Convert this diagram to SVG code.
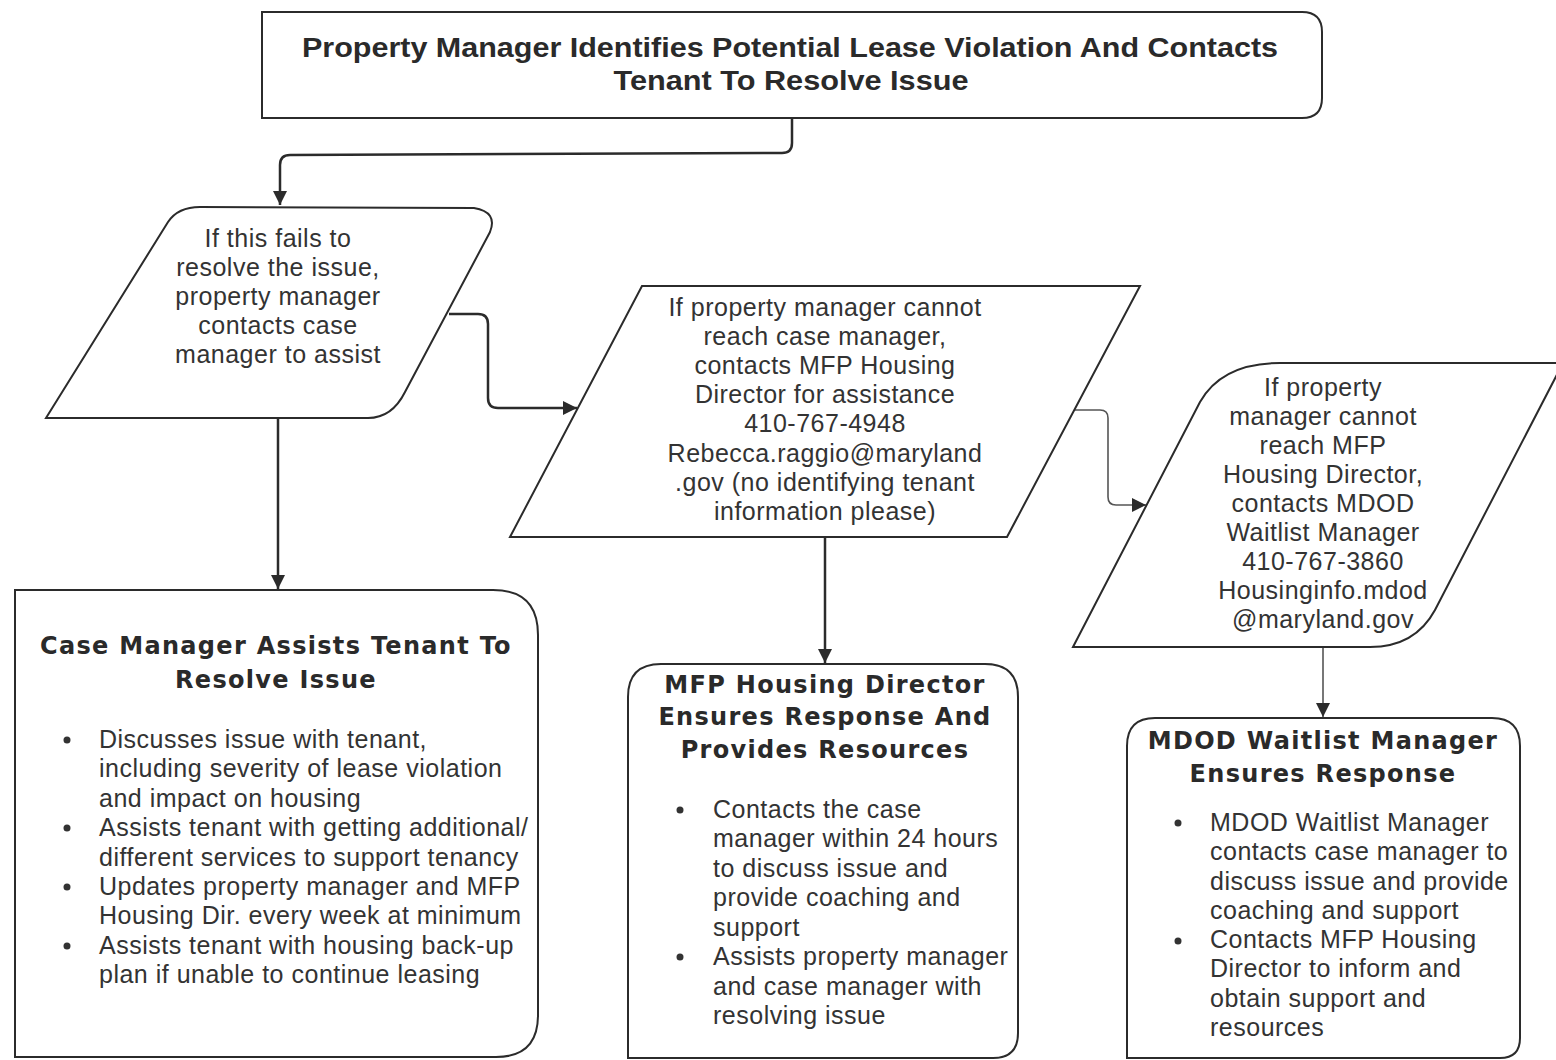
<svg xmlns="http://www.w3.org/2000/svg" width="1556" height="1060" viewBox="0 0 1556 1060">
<defs>
<style>
.shape{fill:#fff;stroke:#2b2b2b;stroke-width:2}
.conn{fill:none;stroke:#2b2b2b;stroke-width:2.5}
.conn.thin{stroke:#555;stroke-width:1.6}
.body{font-family:"Liberation Sans",Arial,sans-serif;font-size:25px;letter-spacing:0.5px;fill:#333}
.mid{text-anchor:middle}
.head{font-family:"Liberation Sans",Arial,sans-serif;font-size:27px;font-weight:bold;fill:#2a2a2a;text-anchor:middle}
.title{font-family:"DejaVu Sans",Verdana,sans-serif;font-size:24px;font-weight:bold;letter-spacing:1.3px;fill:#2a2a2a;text-anchor:middle}
.dot{fill:#333}
</style>
<marker id="arr" viewBox="0 0 10 10" refX="10" refY="5" markerWidth="16" markerHeight="14" markerUnits="userSpaceOnUse" orient="auto">
<path d="M0,0 L10,5 L0,10 Z" fill="#2b2b2b"/>
</marker>
</defs>
<rect width="1556" height="1060" fill="#fff"/>

<g id="connectors">
<path class="conn" d="M792,118 L792,143 Q792,153 782,153 L290,155 Q280,155 280,165 L280,205" marker-end="url(#arr)"/>
<path class="conn" d="M449,314 L478,314 Q488,314 488,324 L488,398 Q488,408 498,408 L577,408" marker-end="url(#arr)"/>
<path class="conn" d="M278,418 L278,589" marker-end="url(#arr)"/>
<path class="conn thin" d="M1074,410 L1100,410 Q1108,410 1108,418 L1108,497 Q1108,505 1116,505 L1146,505" marker-end="url(#arr)"/>
<path class="conn" d="M825,537 L825,663" marker-end="url(#arr)"/>
<path class="conn thin" d="M1323,647 L1323,717" marker-end="url(#arr)"/>
</g>

<g id="n-start">
<path class="shape" d="M262,12 L1302,12 Q1322,12 1322,32 L1322,98 Q1322,118 1302,118 L262,118 Z"/>
<text class="head" x="790" y="57" textLength="976" lengthAdjust="spacingAndGlyphs">Property Manager Identifies Potential Lease Violation And Contacts</text>
<text class="head" x="791" y="90" textLength="355" lengthAdjust="spacingAndGlyphs">Tenant To Resolve Issue</text>
</g>

<g id="n-casemgr-contact">
<path class="shape" d="M46,418 L168,222 Q178,207 200,207 L474,208 Q498,212 490,232 L405,392 Q392,418 368,418 Z"/>
<text class="body mid" x="278" y="247">If this fails to</text>
<text class="body mid" x="278" y="276">resolve the issue,</text>
<text class="body mid" x="278" y="305">property manager</text>
<text class="body mid" x="278" y="334">contacts case</text>
<text class="body mid" x="278" y="363">manager to assist</text>
</g>

<g id="n-mfp-contact">
<path class="shape" d="M642,286 L1140,286 L1007,537 L510,537 Z"/>
<text class="body mid" x="825" y="316">If property manager cannot</text>
<text class="body mid" x="825" y="345">reach case manager,</text>
<text class="body mid" x="825" y="374">contacts MFP Housing</text>
<text class="body mid" x="825" y="403">Director for assistance</text>
<text class="body mid" x="825" y="432">410-767-4948</text>
<text class="body mid" x="825" y="462">Rebecca.raggio@maryland</text>
<text class="body mid" x="825" y="491">.gov (no identifying tenant</text>
<text class="body mid" x="825" y="520">information please)</text>
</g>

<g id="n-mdod-contact">
<path class="shape" d="M1073,647 L1200,402 Q1222,363 1280,363 L1563,363 L1435,610 Q1415,647 1370,647 Z"/>
<text class="body mid" x="1323" y="396">If property</text>
<text class="body mid" x="1323" y="425">manager cannot</text>
<text class="body mid" x="1323" y="454">reach MFP</text>
<text class="body mid" x="1323" y="483">Housing Director,</text>
<text class="body mid" x="1323" y="512">contacts MDOD</text>
<text class="body mid" x="1323" y="541">Waitlist Manager</text>
<text class="body mid" x="1323" y="570">410-767-3860</text>
<text class="body mid" x="1323" y="599">Housinginfo.mdod</text>
<text class="body mid" x="1323" y="628">@maryland.gov</text>
</g>

<g id="n-casemgr">
<path class="shape" d="M15,590 L493,590 Q538,590 538,635 L538,1015 Q538,1057 496,1057 L15,1057 Z"/>
<text class="title" x="276" y="654">Case Manager Assists Tenant To</text>
<text class="title" x="276" y="688">Resolve Issue</text>
<circle class="dot" cx="67" cy="740" r="3.5"/>
<circle class="dot" cx="67" cy="828" r="3.5"/>
<circle class="dot" cx="67" cy="887" r="3.5"/>
<circle class="dot" cx="67" cy="946" r="3.5"/>
<text class="body" x="99" y="748">Discusses issue with tenant,</text>
<text class="body" x="99" y="777">including severity of lease violation</text>
<text class="body" x="99" y="807">and impact on housing</text>
<text class="body" x="99" y="836">Assists tenant with getting additional/</text>
<text class="body" x="99" y="866">different services to support tenancy</text>
<text class="body" x="99" y="895">Updates property manager and MFP</text>
<text class="body" x="99" y="924">Housing Dir. every week at minimum</text>
<text class="body" x="99" y="954">Assists tenant with housing back-up</text>
<text class="body" x="99" y="983">plan if unable to continue leasing</text>
</g>

<g id="n-mfp">
<path class="shape" d="M628,1058 L628,697 Q628,664 661,664 L985,664 Q1018,664 1018,697 L1018,1033 Q1018,1058 993,1058 Z"/>
<text class="title" x="825" y="693">MFP Housing Director</text>
<text class="title" x="825" y="725">Ensures Response And</text>
<text class="title" x="825" y="758">Provides Resources</text>
<circle class="dot" cx="680" cy="810" r="3.5"/>
<circle class="dot" cx="680" cy="957" r="3.5"/>
<text class="body" x="713" y="818">Contacts the case</text>
<text class="body" x="713" y="847">manager within 24 hours</text>
<text class="body" x="713" y="877">to discuss issue and</text>
<text class="body" x="713" y="906">provide coaching and</text>
<text class="body" x="713" y="936">support</text>
<text class="body" x="713" y="965">Assists property manager</text>
<text class="body" x="713" y="995">and case manager with</text>
<text class="body" x="713" y="1024">resolving issue</text>
</g>

<g id="n-mdod">
<path class="shape" d="M1127,1058 L1127,746 Q1127,718 1155,718 L1492,718 Q1520,718 1520,746 L1520,1038 Q1520,1058 1500,1058 Z"/>
<text class="title" x="1323" y="749">MDOD Waitlist Manager</text>
<text class="title" x="1323" y="782">Ensures Response</text>
<circle class="dot" cx="1178" cy="823" r="3.5"/>
<circle class="dot" cx="1178" cy="941" r="3.5"/>
<text class="body" x="1210" y="831">MDOD Waitlist Manager</text>
<text class="body" x="1210" y="860">contacts case manager to</text>
<text class="body" x="1210" y="890">discuss issue and provide</text>
<text class="body" x="1210" y="919">coaching and support</text>
<text class="body" x="1210" y="948">Contacts MFP Housing</text>
<text class="body" x="1210" y="977">Director to inform and</text>
<text class="body" x="1210" y="1007">obtain support and</text>
<text class="body" x="1210" y="1036">resources</text>
</g>
</svg>
